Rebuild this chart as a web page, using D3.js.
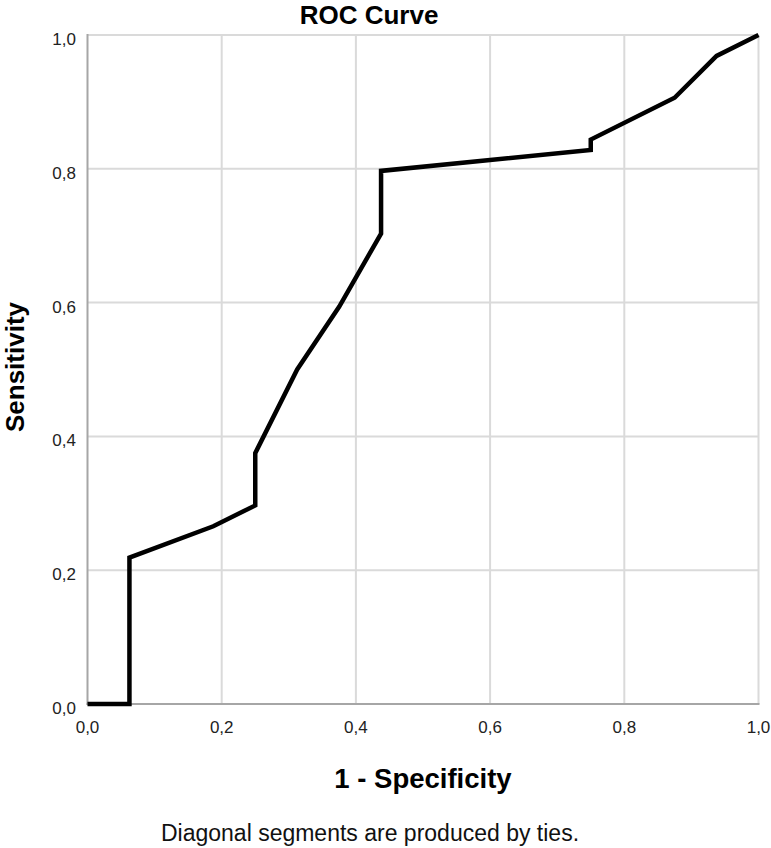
<!DOCTYPE html>
<html>
<head>
<meta charset="utf-8">
<script src="https://cdn.jsdelivr.net/npm/d3@7"></script>
<style>
html,body{margin:0;padding:0;background:#fff;}
svg{display:block;font-family:"Liberation Sans",Arial,sans-serif;}
</style>
</head>
<body>
<svg id="chart" width="771" height="848"></svg>
<script>
// Data
const fpr = [0, 0.0625, 0.0625, 0.1875, 0.25, 0.25, 0.3125, 0.375, 0.4375, 0.4375, 0.75, 0.75, 0.875, 0.9375, 1];
const tpr = [0, 0, 0.21875, 0.265625, 0.296875, 0.375, 0.5, 0.59375, 0.703125, 0.796875, 0.828125, 0.84375, 0.90625, 0.96875, 1];
const tickValues = [0, 0.2, 0.4, 0.6, 0.8, 1.0];
const tickLabels = ["0,0", "0,2", "0,4", "0,6", "0,8", "1,0"];
const titleText = "ROC Curve";
const xLabel = "1 - Specificity";
const yLabel = "Sensitivity";
const footnote = "Diagonal segments are produced by ties.";

const svg = d3.select("#chart");
const x = d3.scaleLinear().domain([0, 1]).range([87.5, 758.5]);
const y = d3.scaleLinear().domain([0, 1]).range([704, 35]);

// Gridlines
const grid = svg.append("g");
grid.selectAll("line.vx").data(tickValues.slice(1)).enter().append("line")
  .attr("x1", d => x(d)).attr("x2", d => x(d))
  .attr("y1", y(0)).attr("y2", y(1))
  .attr("stroke", "#dadada").attr("stroke-width", 2);
grid.selectAll("line.hy").data(tickValues.slice(1)).enter().append("line")
  .attr("x1", x(0)).attr("x2", x(1))
  .attr("y1", d => y(d)).attr("y2", d => y(d))
  .attr("stroke", "#dadada").attr("stroke-width", 2);

// Axis lines
svg.append("line").attr("x1", x(0)).attr("x2", x(0)).attr("y1", y(1) - 1).attr("y2", y(0) + 1)
  .attr("stroke", "#a6a6a6").attr("stroke-width", 2);
svg.append("line").attr("x1", x(0) - 1).attr("x2", x(1) + 1).attr("y1", y(0)).attr("y2", y(0))
  .attr("stroke", "#a6a6a6").attr("stroke-width", 2);

// Tick labels
svg.append("g").selectAll("text").data(tickValues).enter().append("text")
  .attr("x", d => x(d)).attr("y", 733)
  .attr("text-anchor", "middle").attr("font-size", 17).attr("fill", "#222")
  .text((d, i) => tickLabels[i]);
svg.append("g").selectAll("text").data(tickValues).enter().append("text")
  .attr("x", 76).attr("y", d => y(d) + 10)
  .attr("text-anchor", "end").attr("font-size", 17).attr("fill", "#222")
  .text((d, i) => tickLabels[i]);

// ROC curve
const pts = fpr.map((v, i) => [v, tpr[i]]);
svg.append("path").datum(pts)
  .attr("d", d3.line().x(d => x(d[0])).y(d => y(d[1])))
  .attr("fill", "none").attr("stroke", "#000").attr("stroke-width", 4.5)
  .attr("stroke-linejoin", "miter");

// Title & labels
svg.append("text").attr("x", 369).attr("y", 23.5).attr("text-anchor", "middle")
  .attr("font-size", 26).attr("font-weight", "bold").attr("fill", "#000").text(titleText);
svg.append("text").attr("x", 423).attr("y", 788).attr("text-anchor", "middle")
  .attr("font-size", 27.5).attr("font-weight", "bold").attr("fill", "#000").text(xLabel);
svg.append("text").attr("transform", "translate(23.5,367) rotate(-90)").attr("text-anchor", "middle")
  .attr("font-size", 26).attr("font-weight", "bold").attr("fill", "#000").text(yLabel);
svg.append("text").attr("x", 370).attr("y", 841).attr("text-anchor", "middle")
  .attr("font-size", 23).attr("fill", "#111").text(footnote);
</script>
</body>
</html>
